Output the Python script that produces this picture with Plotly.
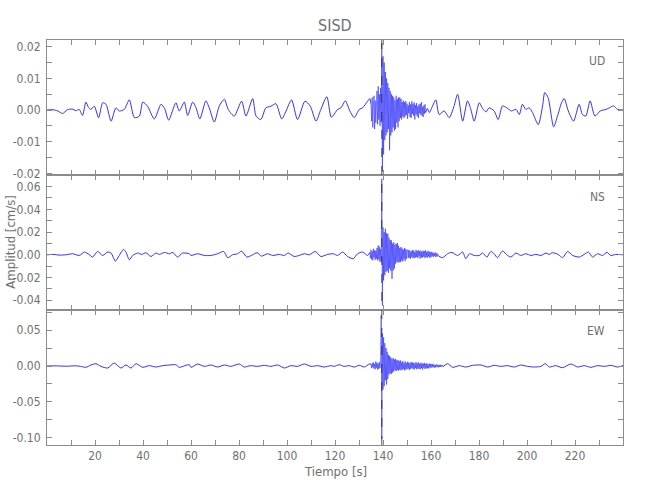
import numpy as np
import plotly.graph_objects as go

# ---------------- data (amplitudes in units of 1e-4 cm/s) ----------------
t_range = [0, 240]
event_time = 139.5
burst_step = 0.25

# UD component
ud_pre_t = [0, 2.5, 4.5, 6.5, 8.5, 10.5, 12, 13.4, 14.8, 16.2, 17.3, 18.3, 19.7, 21.5, 23.2, 24.6, 26.7, 28.7, 30.1, 32.2,
            34.3, 36.4, 38.5, 39.9, 41.9, 44.7, 47.5, 49, 50.7, 53.7, 55.1, 57.2, 58.6, 60.7, 62.1, 63.7, 66.2, 67.6, 69.7, 71.8,
            73.9, 75.5, 78, 81.1, 82.9, 85.7, 87.1, 89.1, 91.2, 93.3, 95.4, 97.8, 99.6, 101.9, 104.4, 107.5, 109.7, 112.1, 114.1, 116.6,
            118.5, 121.1, 122.5, 124.3, 126.2, 128, 130.1, 131.5, 133.6, 134.5]
ud_pre_v = [0, 1, -3, -11, 1, 3, -2, 2, -17, 25, 8, 2, 12, -24, 23, 18, -35, 7, -3, 2,
            32, -24, -19, 25, 12, -28, 18, 5, -32, 23, -3, 25, -17, 25, 7, -28, 29, 7, -38, 13,
            34, 2, -19, 28, -19, 36, -19, -30, 7, 12, 20, -28, -3, 32, -30, 28, 12, -35, 2, 42,
            -23, 2, 7, 29, -3, -24, 2, 7, 28, 36]
ud_burst_t0 = 135.0
ud_burst_v = [20, -35, 40, -55, 10, 45, -60, 30, -40, 25,
              60, -45, 75, -30, 50, -50, 70, -40,
              212, -194, 170, -140, 150,
              -95, 120, -80, 100, -70,
              85, -60, 70, -127, 60, -80, 50, -70,
              45, -55, 40, -65, 30, -60, 45, -40, 35, -55, 40, -35,
              40, -25, 35, -30, 25, -20, 30, -25,
              25, -20, 28, -15, 20, -28, 15, -10, 25, -22, 18, -25, 28, -12, 20, -18, 24, -30,
              16, -14, 22, -20, 12, -25, 18, -10, 20, -15, 25, -18, 10, -22, 15, -12, 18, -8]
ud_post_t = [158.5, 159.3, 160.5, 162, 163.4, 165.5, 167.6, 169.5, 171.1, 173.2, 175.2, 176.5, 178, 180.1, 181.5, 182.9,
             184.2, 186.3, 188, 189.8, 191.6, 193.5, 195.4, 196.8, 198.1, 199.5, 200.9, 202.3, 204.7, 206.5, 207.4, 208.8,
             211.1, 212.7, 214.4, 215.5, 217.2, 219.4, 221.7, 223.1, 224.5, 226.3, 228.3, 230.5, 232.9, 234.3, 236.1, 237.7, 240]
ud_post_v = [5, -8, 10, 32, -14, -3, -24, 10, 50, -35, 29, 5, -35, 23, 5, -6,
             7, -3, -30, 13, 7, -3, 2, -14, 18, 2, 7, -8, -46, 13, 55, 39,
             -53, -19, 23, 36, -3, -35, 18, -14, -19, 29, -19, -3, 2, 7, 13, 2, 0]

# NS component
ns_pre_t = [0, 3, 5, 7.9, 10.7, 13.5, 15.6, 17.5, 19, 21.1, 23.2, 25.3, 26.7, 28.5, 30.1, 31.9, 32.9, 34.3, 35.7, 37.8,
            39.5, 41.2, 43.3, 45.4, 46.8, 48.9, 51, 52.4, 54.4, 56.5, 59.3, 60, 62.8, 65.5, 68.3, 71.1, 73.6, 75.3, 77.3, 79.4,
            81.1, 83.3, 85.7, 87.5, 89.4, 91.9, 94, 96.8, 98.9, 100.5, 103, 105.1, 107.2, 109.3, 111.8, 114.1, 116.9, 119.3, 121.1, 123.2,
            125.2, 127.6, 129.4, 131.5, 133.6]
ns_pre_v = [0, 3, -3, 0, 9, -6, 24, 3, -20, 29, -6, 24, 15, -56, -6, 47, 24, -44, -6, 15,
            3, 18, -15, 15, 3, 21, 9, 21, -20, 15, 9, -6, 9, -6, -6, 9, 29, -26, 0, 9,
            32, -20, 0, 18, -12, 9, -6, 3, -6, 15, -15, -6, 9, 0, 29, -15, 3, 9, -6, 24,
            -15, -35, 9, 24, -6]
ns_burst_t0 = 134.5
ns_burst_v = [20, -30, 45, -40, 30, -50, 53, -25, 40, -45, 35, -35,
              60, -50, 82, -40, 70, -65, 50, -55,
              670, -447,
              240, -226, 200,
              -180, 229, -150, 190,
              -140, 185, -160, 150, -120, 130,
              -140, 126, -212, 100, -138, 110, -120, 90,
              -79, 97, -60, 103, -70, 80, -65, 60,
              -65, 68, -50, 55, -60, 45, -40, 60, -55, 50, -35, 45,
              40, -30, 44, -25, 35, -35, 30, -20, 42, -28, 38, -30, 25, -25, 44, -20, 35, -30, 40, -15,
              30, -35, 38, -22, 28, -25, 36, -18, 32, -30, 40, -20, 25, -25, 35, -15, 30, -28, 22, -20,
              25, -15, 20, -18, 15, -10, 22, -20, 12, -15, 10, -8]
ns_post_t = [164.8, 166.9, 168.7, 171.1, 173.2, 174.5, 176, 178, 180.1, 181.5, 183.3, 184.9, 186.3, 187.7, 189.8, 191.9,
             193.3, 195.4, 197.4, 199.5, 201.6, 203.7, 205.8, 207.9, 209.3, 210.6, 213, 214.8, 216.9, 219, 221.8, 223.8,
             225.6, 227.3, 229.4, 231.5, 233.3, 234.9, 237, 240]
ns_post_v = [-26, 9, 21, -6, 24, -35, 9, -6, -6, 15, -20, 29, 9, -26, 32, -6,
             -20, 15, -6, 9, -6, 3, -6, 15, 3, 18, 3, -26, 29, -6, -20, 3,
             24, -20, 9, -6, 21, -6, 3, 0]

# EW component
ew_pre_t = [0, 4, 8, 12, 14, 16.2, 18.3, 20.4, 22.5, 25.3, 28, 30.8, 32.9, 35, 37.1, 39.9, 42.6, 45.4, 48.2, 51,
            53.7, 55.1, 57.9, 59.3, 60, 62.8, 65.5, 68.3, 71.1, 73.9, 76.6, 80.1, 82.2, 84.9, 87.7, 90.5, 93.3, 96.1, 98.9, 101.6,
            104.4, 107.2, 110, 112.8, 115.5, 118.3, 119.7, 121.7, 123.8, 125.9, 128, 130.1, 132.2, 134.3]
ew_pre_v = [0, 2, -3, 3, -5, -18, 14, 32, -5, -28, 41, -28, 14, -28, 32, -18, 5, -14, 5, 14,
            18, -18, 9, 18, -18, 28, -5, 14, -14, 14, -5, 28, -14, 5, -5, 9, -5, 14, -28, 5,
            -5, 28, -5, 5, -14, 5, -5, 18, -5, 5, -14, 9, -14, 28]
ew_burst_t0 = 135.0
ew_burst_v = [25, -30, 40, -20, 50, -35, 30, -45, 64, -25, 45, -50, 35, -40, 55, -30, 40,
              708, -1017,
              455, -327, 400,
              -280, 317, -200,
              250, -258, 200, -180,
              156, -120, 140, -100, 120, -110, 100, -90,
              110, -74, 90, -60, 100, -70, 80, -55, 85, -65, 70, -50,
              78, -60, 50, -55, 70, -40, 45, -60, 65, -50, 40, -45, 60, -35, 50, -55, 40, -40, 55, -30,
              50, -40, 45, -50, 35, -30, 55, -45, 40, -35, 50, -40, 30, -45, 45, -30,
              40, -50, 35, -25, 45, -40, 30, -35, 40, -30, 25, -35, 35, -20, 30, -25,
              25, -20, 30, -15, 20, -25, 15, -18, 22, -12, 18, -20, 12, -15, 20, -10, 15, -12, 10, -8]
ew_post_t = [166.9, 169, 171.8, 174.5, 177.3, 180.8, 183.6, 186.3, 189.1, 191.9, 194.7, 197.4, 200.2, 203, 205.8, 207.6,
             209.3, 212, 214.8, 218.3, 221.1, 223.8, 226.6, 229.4, 232.2, 235, 237.7, 240]
ew_post_v = [32, -18, 5, -14, 9, 14, -14, 9, -5, 5, -14, 14, -5, -14, -5, 32,
             -14, 5, -23, 28, -14, 5, -18, 5, -5, 9, -14, 5]

components = ["UD", "NS", "EW"]
y_ranges = [[-0.0205, 0.0221], [-0.0486, 0.0702], [-0.1100, 0.0780]]
y_tick_step = [0.005, 0.01, 0.025]
y_label_vals = [[-0.02, -0.01, 0.0, 0.01, 0.02],
                [-0.04, -0.02, 0.0, 0.02, 0.04, 0.06],
                [-0.10, -0.05, 0.0, 0.05]]
x_tick_vals = list(range(10, 240, 10))
x_label_vals = list(range(20, 240, 20))

SCALE = 1e-4


def segments(pre_t, pre_v, t0, burst_v, post_t, post_v):
    assert len(pre_t) == len(pre_v) and len(post_t) == len(post_v)
    bt = t0 + burst_step * np.arange(len(burst_v))
    bv = np.asarray(burst_v, float) * SCALE
    pt = np.asarray(pre_t, float)
    pv = np.asarray(pre_v, float) * SCALE
    qt = np.asarray(post_t, float)
    qv = np.asarray(post_v, float) * SCALE
    # quiet parts joined to the ends of the burst
    pre = (np.append(pt, bt[0]), np.append(pv, bv[0]))
    post = (np.insert(qt, 0, bt[-1]), np.insert(qv, 0, bv[-1]))
    return pre, (bt, bv), post


traces = [
    segments(ud_pre_t, ud_pre_v, ud_burst_t0, ud_burst_v, ud_post_t, ud_post_v),
    segments(ns_pre_t, ns_pre_v, ns_burst_t0, ns_burst_v, ns_post_t, ns_post_v),
    segments(ew_pre_t, ew_pre_v, ew_burst_t0, ew_burst_v, ew_post_t, ew_post_v),
]

FONT = "DejaVu Sans Condensed, Liberation Sans Narrow, sans-serif"
TXT = "#707070"
AX = "#8c8c8c"
BLUE = "rgb(25,25,255)"

fig = go.Figure()
domains = [[2 / 3, 1.0], [1 / 3, 2 / 3], [0.0, 1 / 3]]
label_y = [0.948, 0.612, 0.281]

for i, (pre, burst, post) in enumerate(traces):
    n = "" if i == 0 else str(i + 1)
    for (t, v), shape, w in ((pre, "spline", 0.9), (burst, "linear", 0.55), (post, "spline", 0.9)):
        fig.add_trace(go.Scatter(x=t, y=v, mode="lines", xaxis="x" + n, yaxis="y" + n,
                                 line=dict(color=BLUE, width=w, shape=shape,
                                           smoothing=0.7 if shape == "spline" else None),
                                 showlegend=False, hoverinfo="skip"))
    lo, hi = y_ranges[i]
    st = y_tick_step[i]
    k0 = int(np.ceil(lo / st - 1e-9))
    k1 = int(np.floor(hi / st + 1e-9))
    yt = [round(k * st, 4) for k in range(k0, k1 + 1)]
    ytext = []
    for val in yt:
        if any(abs(val - lv) < 1e-9 for lv in y_label_vals[i]):
            ytext.append(("%.2f" % val).replace("-0.00", "0.00"))
        else:
            ytext.append("")
    is_bottom = (i == 2)
    xt_text = [str(x) if x in x_label_vals else "" for x in x_tick_vals]
    fig.update_layout(**{
        "xaxis" + n: dict(domain=[0, 1], range=t_range, anchor="y" + n, showline=True, linecolor=AX,
                          linewidth=1, mirror="ticks", ticks="inside", ticklen=5, tickcolor=AX,
                          tickvals=x_tick_vals, ticktext=xt_text, showticklabels=is_bottom,
                          showgrid=False, zeroline=False, automargin=False,
                          tickfont=dict(family=FONT, size=12, color=TXT)),
        "yaxis" + n: dict(domain=domains[i], range=[lo, hi], anchor="x" + n, showline=True, linecolor=AX,
                          linewidth=1, mirror="ticks", ticks="inside", ticklen=5, tickcolor=AX,
                          tickvals=yt, ticktext=ytext, showgrid=False, zeroline=False, automargin=False,
                          ticklabelstandoff=3,
                          tickfont=dict(family=FONT, size=12, color=TXT)),
    })
    fig.add_annotation(text=components[i], xref="paper", yref="paper", x=0.972, y=label_y[i],
                       xanchor="right", yanchor="middle", showarrow=False,
                       font=dict(family=FONT, size=12, color=TXT))

fig.add_shape(type="line", xref="x", yref="paper", x0=event_time, x1=event_time, y0=0, y1=1,
              line=dict(color="#222222", width=0.8, dash="dash"), layer="above")

fig.add_annotation(text="SISD", xref="paper", yref="paper", x=0.5, y=1.037, xanchor="center",
                   yanchor="middle", showarrow=False, font=dict(family=FONT, size=16, color=TXT))
fig.add_annotation(text="Tiempo [s]", xref="paper", yref="paper", x=0.5, y=-0.066, xanchor="center",
                   yanchor="middle", showarrow=False, font=dict(family=FONT, size=13, color=TXT))
fig.add_annotation(text="Amplitud [cm/s]", xref="paper", yref="paper", x=-0.064, y=0.5, xanchor="center",
                   yanchor="middle", textangle=-90, showarrow=False,
                   font=dict(family=FONT, size=13, color=TXT))

fig.update_layout(width=650, height=500, margin=dict(l=47, r=27, t=40, b=55),
                  paper_bgcolor="white", plot_bgcolor="white")

# remove the default 8 px page margin so the 650x500 figure fills the window exactly
fig.write_html("out.html", config={"displayModeBar": False},
               post_script="document.body.style.margin='0px';")
